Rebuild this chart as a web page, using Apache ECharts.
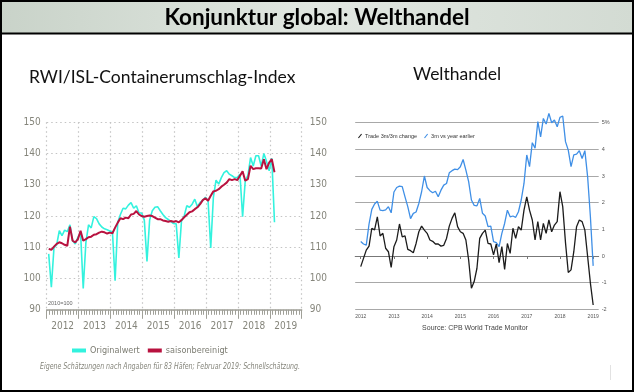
<!DOCTYPE html>
<html><head><meta charset="utf-8">
<script src="https://cdn.jsdelivr.net/npm/echarts@6/dist/echarts.min.js"></script>
<style>html,body{margin:0;padding:0;background:#fff}#c{width:634px;height:392px}</style>
</head><body><div id="c"></div>
<script>
// ---------- Left chart: RWI/ISL-Containerumschlag-Index (monthly, Jan 2012 - Feb 2019) ----------
const yearLabels = ['2012','2013','2014','2015','2016','2017','2018','2019'];
const origValues = [
  107.9, 97.2, 110.0, 110.8, 115.3, 113.7, 115.5, 115.0, 117.2, 112.1, 111.1, 113.2,
  114.7, 96.8, 111.5, 117.2, 116.2, 119.8, 119.2, 117.5, 116.5, 115.9, 115.6, 115.2,
  115.0, 99.3, 118.0, 120.5, 122.5, 122.3, 123.5, 124.3, 122.5, 123.3, 121.0, 121.0,
  118.7, 105.5, 118.7, 121.7, 122.8, 123.0, 121.7, 120.5, 119.5, 118.9, 118.2, 117.6,
  117.5, 106.6, 118.5, 120.0, 123.3, 122.8, 123.8, 125.4, 123.0, 124.4, 125.0, 126.0,
  125.0, 109.8, 126.0, 131.5, 130.2, 132.3, 133.9, 134.5, 133.4, 132.9, 132.3, 132.3,
  133.4, 119.8, 131.3, 133.0, 138.7, 136.0, 139.3, 139.3, 136.0, 140.0, 137.5, 134.5,
  138.5, 118.0
];
const saValues = [
  109.5, 109.2, 110.2, 111.1, 111.6, 111.3, 110.8, 110.5, 116.6, 112.1, 111.6, 112.6,
  115.3, 112.1, 112.6, 113.2, 113.4, 114.0, 114.2, 114.7, 115.0, 114.8, 114.4, 114.7,
  114.5, 116.3, 117.9, 119.3, 119.0, 119.5, 119.3, 120.5, 120.7, 121.6, 120.5, 120.0,
  119.8, 120.0, 120.2, 120.0, 119.5, 119.0, 119.0, 118.6, 118.4, 118.2, 118.4, 118.2,
  118.4, 118.0, 118.7, 119.6, 120.4, 121.2, 121.5, 122.2, 122.8, 123.8, 125.1, 125.7,
  124.9, 126.5, 127.9, 128.1, 128.6, 129.4, 130.0, 130.7, 131.8, 131.5, 131.8, 131.5,
  132.9, 134.3, 131.3, 131.8, 136.1, 135.0, 135.3, 135.3, 135.2, 138.2, 135.0, 137.1,
  138.2, 134.0
];

// ---------- Right chart: CPB World Trade Monitor (monthly, Jan 2012 - Jan 2019) ----------
const wtYearLabels = ['2012','2013','2014','2015','2016','2017','2018','2019'];
const trade3m3m = [
  -0.40, -0.09, 0.22, 0.37, 1.04, 0.98, 1.47, 0.75, 0.85, 0.29, 0.16, -0.43,
  0.35, 0.60, 1.20, 0.72, 0.75, 0.25, 0.20, 0.12, 0.47, 0.91, 1.12, 0.97,
  0.85, 0.60, 0.55, 0.45, 0.45, 0.37, 0.40, 0.66, 1.12, 1.41, 1.62, 1.10,
  0.91, 0.85, 0.60, -0.15, -1.21, -0.96, -0.46, 0.66, 0.85, 0.97, 0.47, 0.45,
  0.04, 0.45, -0.25, 0.35, -0.50, 0.47, 0.10, 1.04, 0.66, 1.10, 0.97, 1.72,
  2.22, 1.72, 1.35, 0.60, 1.29, 0.60, 1.22, 0.85, 1.35, 0.91, 1.16, 1.29,
  2.41, 1.85, 0.50, -0.62, -0.52, 0.16, 1.10, 1.35, 1.29, 0.97, -0.02, -1.02,
  -1.84
];
const trade3mYoY = [
  0.54, 0.45, 0.41, 1.20, 1.75, 1.95, 2.05, 1.72, 1.70, 1.73, 1.85, 1.62,
  2.40, 2.57, 2.62, 2.60, 2.22, 1.85, 1.40, 1.60, 1.65, 1.97, 2.41, 3.00,
  2.57, 2.45, 2.37, 2.43, 2.22, 2.47, 2.66, 2.72, 3.12, 3.20, 3.26, 3.24,
  3.35, 3.62, 3.22, 2.79, 2.10, 1.90, 1.88, 2.16, 1.60, 1.50, 1.10, 1.12,
  0.54, 0.50, 0.35, 0.85, 1.22, 1.72, 1.47, 1.50, 1.45, 1.66, 2.10, 2.72,
  3.79, 3.35, 4.25, 4.04, 5.04, 4.47, 5.16, 4.95, 5.35, 5.00, 5.10, 4.85,
  5.20, 5.25, 4.29, 3.97, 3.35, 3.79, 3.82, 3.95, 3.66, 3.95, 2.97, 1.47,
  -0.37
];

const narrow = '"Liberation Sans Narrow", "DejaVu Sans Condensed", Lato, sans-serif';
const arial = '"Liberation Sans", Arial, sans-serif';
const slash = 'path://M0,9 L7,0 L9,1 L2,10 Z';

const chart = echarts.init(document.getElementById('c'), null, {renderer: 'canvas'});
const monthOffset = 0.75;

chart.setOption({
  animation: false,
  backgroundColor: '#fff',
  textStyle: {fontFamily: narrow},
  grid: [
    {left: 46.7, top: 122.3, width: 255, height: 187.5},
    {left: 355.2, top: 122.7, width: 243.5, height: 186.6}
  ],
  legend: [
    {
      data: ['Originalwert', 'saisonbereinigt'],
      left: 72, top: 346, padding: 0, icon: 'rect', itemWidth: 14, itemHeight: 4, itemGap: 8,
      textStyle: {color: '#7c7c72', fontSize: 9, fontFamily: narrow, padding: [0, 0, 0, -1]}
    },
    {
      data: ['Trade 3m/3m change', '3m vs year earlier'],
      left: 358, top: 133, padding: 0, icon: slash, itemWidth: 4, itemHeight: 6, itemGap: 7,
      textStyle: {color: '#333', fontSize: 5.5, fontFamily: arial, padding: [0, 0, 0, -2]}
    }
  ],
  xAxis: [
    {
      gridIndex: 0, type: 'value', min: 0, max: 96, interval: 12,
      axisLine: {show: true, lineStyle: {color: '#a0a098', width: 1.5}},
      axisTick: {show: true, length: 9, lineStyle: {color: '#a0a098'}},
      minorTick: {show: true, splitNumber: 12, length: 5, lineStyle: {color: '#a0a098'}},
      splitLine: {show: true, lineStyle: {color: '#c4c4c4', type: [1.5, 3], width: 1.2}},
      axisLabel: {
        show: true, customValues: [6, 18, 30, 42, 54, 66, 78, 90],
        formatter: v => yearLabels[Math.round((v - 6) / 12)],
        color: '#85857b', fontSize: 10, margin: 12, fontFamily: narrow
      }
    },
    {
      gridIndex: 1, type: 'value', min: -2, max: 86,
      axisLine: {show: true, lineStyle: {color: '#777', width: 1}},
      axisTick: {show: true, length: 3, customValues: [0, 12, 24, 36, 48, 60, 72, 84], lineStyle: {color: '#777'}},
      splitLine: {show: false},
      axisLabel: {
        show: true, customValues: [0, 12, 24, 36, 48, 60, 72, 84],
        formatter: v => wtYearLabels[Math.round(v / 12)],
        color: '#555', fontSize: 5, margin: 5, fontFamily: arial
      }
    }
  ],
  yAxis: [
    {
      gridIndex: 0, type: 'value', min: 90, max: 150, interval: 10, position: 'left',
      axisLine: {show: false}, axisTick: {show: false},
      splitLine: {show: true, lineStyle: {color: '#c4c4c4', type: [1.5, 3], width: 1.2}},
      axisLabel: {color: '#85857b', fontSize: 10, margin: 6, fontFamily: narrow}
    },
    {
      gridIndex: 0, type: 'value', min: 90, max: 150, interval: 10, position: 'right',
      axisLine: {show: false}, axisTick: {show: false}, splitLine: {show: false},
      axisLabel: {color: '#85857b', fontSize: 10, margin: 8, fontFamily: narrow}
    },
    {
      gridIndex: 1, type: 'value', min: -2, max: 5, interval: 1, position: 'right',
      axisLine: {show: false}, axisTick: {show: false},
      splitLine: {show: true, lineStyle: {color: '#a8a8a8', width: 1}},
      axisLabel: {color: '#555', fontSize: 5.5, margin: 3, fontFamily: arial,
        formatter: v => (v === 5 ? '5%' : String(v))}
    }
  ],
  series: [
    {
      name: 'Originalwert', type: 'line', xAxisIndex: 0, yAxisIndex: 0,
      data: origValues.map((v, i) => [i + monthOffset, v]),
      showSymbol: false, symbol: 'none', color: '#33f2de',
      lineStyle: {width: 1.6, color: '#33f2de'}
    },
    {
      name: 'saisonbereinigt', type: 'line', xAxisIndex: 0, yAxisIndex: 0,
      data: saValues.map((v, i) => [i + monthOffset, v]),
      showSymbol: false, symbol: 'none', color: '#b8123f',
      lineStyle: {width: 2, color: '#b8123f'}
    },
    {
      name: '3m vs year earlier', type: 'line', xAxisIndex: 1, yAxisIndex: 2,
      data: trade3mYoY.map((v, i) => [i, v]), clip: false,
      showSymbol: false, symbol: 'none', color: '#3f8fe6',
      lineStyle: {width: 1.3, color: '#3f8fe6'}
    },
    {
      name: 'Trade 3m/3m change', type: 'line', xAxisIndex: 1, yAxisIndex: 2,
      data: trade3m3m.map((v, i) => [i, v]), clip: false,
      showSymbol: false, symbol: 'none', color: '#1c1c1c',
      lineStyle: {width: 1.3, color: '#1c1c1c'}
    }
  ],
  graphic: [
    {type: 'rect', z: -10, shape: {x: 0, y: 0, width: 634, height: 34},
      style: {fill: new echarts.graphic.LinearGradient(0, 0, 1, 0, [
        {offset: 0, color: '#c9d3c9'}, {offset: 0.5, color: '#e1e7e1'}, {offset: 1, color: '#d3dbd3'}])}},
    {type: 'line', z: 50, shape: {x1: 0, y1: 33.5, x2: 634, y2: 33.5}, style: {stroke: '#000', lineWidth: 2}},
    {type: 'rect', z: 50, shape: {x: 1, y: 1, width: 632, height: 390}, style: {fill: null, stroke: '#000', lineWidth: 2}},
    {type: 'text', z: 60, x: 317, y: 17.5, style: {text: 'Konjunktur global: Welthandel', font: 'bold 22.5px Lato, sans-serif', fill: '#000', textAlign: 'center', textVerticalAlign: 'middle'}},
    {type: 'text', z: 60, x: 29, y: 77, style: {text: 'RWI/ISL-Containerumschlag-Index', font: '17.5px Lato, sans-serif', fill: '#111', textAlign: 'left', textVerticalAlign: 'middle'}},
    {type: 'text', z: 60, x: 413, y: 74, style: {text: 'Welthandel', font: '17.5px Lato, sans-serif', fill: '#111', textAlign: 'left', textVerticalAlign: 'middle'}},
    {type: 'text', z: 60, x: 48, y: 303, style: {text: '2010=100', font: '5.5px ' + arial, fill: '#666', textAlign: 'left', textVerticalAlign: 'middle'}},
    {type: 'text', z: 60, x: 40, y: 367, scaleX: 0.82, style: {text: 'Eigene Schätzungen nach Angaben für 83 Häfen; Februar 2019: Schnellschätzung.', font: 'italic 8.5px ' + narrow, fill: '#85857b', textAlign: 'left', textVerticalAlign: 'middle'}},
    {type: 'text', z: 60, x: 475, y: 328, style: {text: 'Source: CPB World Trade Monitor', font: '7px ' + arial, fill: '#444', textAlign: 'center', textVerticalAlign: 'middle'}},
    {type: 'line', z: 60, shape: {x1: 610.5, y1: 365, x2: 610.5, y2: 380}, style: {stroke: '#e2e2e2', lineWidth: 1}}
  ]
});
</script></body></html>
